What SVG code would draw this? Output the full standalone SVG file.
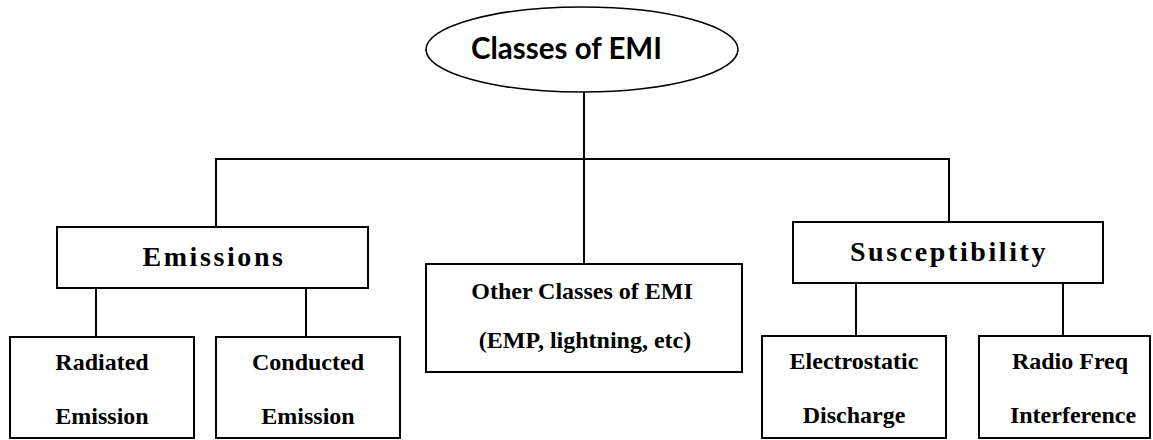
<svg xmlns="http://www.w3.org/2000/svg" width="1153" height="440" viewBox="0 0 1153 440">
  <style>
    .box { fill: #ffffff; stroke: #000000; stroke-width: 2; }
    .ell { fill: #ffffff; stroke: #000000; stroke-width: 1.6; }
    .wire { fill: none; stroke: #000000; stroke-width: 2; }
    .lbl { font-family: "Liberation Serif", "Times New Roman", serif; font-weight: bold; font-size: 24px; fill: #000000; text-anchor: middle; }
    .head { font-family: "Liberation Serif", "Times New Roman", serif; font-weight: bold; font-size: 28px; letter-spacing: 2.6px; fill: #000000; text-anchor: middle; }
    .root { font-family: "Lato", "Open Sans", sans-serif; font-weight: bold; font-size: 29.5px; fill: #000000; }
  </style>
  <rect width="1153" height="440" fill="#ffffff"/>

  <!-- connectors -->
  <g id="connectors" class="wire">
    <line x1="584" y1="91" x2="584" y2="264"/>
    <polyline points="216,227 216,159 949,159 949,222"/>
    <line x1="96" y1="288" x2="96" y2="337"/>
    <line x1="306" y1="288" x2="306" y2="337"/>
    <line x1="856" y1="283" x2="856" y2="336"/>
    <line x1="1063" y1="283" x2="1063" y2="336"/>
  </g>

  <g id="classes-of-emi">
    <ellipse class="ell" cx="582" cy="49.5" rx="156" ry="42.5"/>
    <text class="root" x="471" y="59">Classes of EMI</text>
  </g>

  <g id="emissions">
    <rect class="box" x="57" y="227" width="311" height="61"/>
    <text class="head" x="214" y="266">Emissions</text>
  </g>

  <g id="other-classes">
    <rect class="box" x="426" y="264" width="316" height="108"/>
    <text class="lbl" x="582" y="299">Other Classes of EMI</text>
    <text class="lbl" x="585" y="348">(EMP, lightning, etc)</text>
  </g>

  <g id="susceptibility">
    <rect class="box" x="793" y="222" width="310" height="61"/>
    <text class="head" x="949" y="261">Susceptibility</text>
  </g>

  <g id="radiated-emission">
    <rect class="box" x="10" y="337" width="184" height="101"/>
    <text class="lbl" x="102" y="370">Radiated</text>
    <text class="lbl" x="102" y="424">Emission</text>
  </g>

  <g id="conducted-emission">
    <rect class="box" x="216" y="337" width="184" height="101"/>
    <text class="lbl" x="308" y="370">Conducted</text>
    <text class="lbl" x="308" y="424">Emission</text>
  </g>

  <g id="electrostatic-discharge">
    <rect class="box" x="762" y="336" width="184" height="102"/>
    <text class="lbl" x="854" y="369">Electrostatic</text>
    <text class="lbl" x="854" y="423">Discharge</text>
  </g>

  <g id="radio-freq-interference">
    <rect class="box" x="979" y="336" width="171" height="102"/>
    <text class="lbl" x="1070" y="369">Radio Freq</text>
    <text class="lbl" x="1073" y="423">Interference</text>
  </g>
</svg>
